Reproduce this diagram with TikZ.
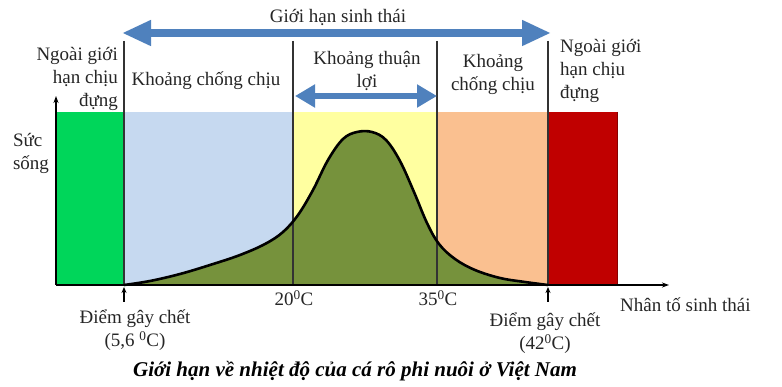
\documentclass[tikz,border=0pt]{standalone}
\usepackage{fontspec}
\setmainfont{Liberation Serif}
\usetikzlibrary{arrows.meta}
\definecolor{cgreen}{HTML}{00D65A}
\definecolor{cblue}{HTML}{C6D9F0}
\definecolor{cyellow}{HTML}{FFFFA0}
\definecolor{corange}{HTML}{FAC090}
\definecolor{cred}{HTML}{C00000}
\definecolor{colive}{HTML}{76923C}
\definecolor{arrowblue}{HTML}{4F81BD}
\tikzset{
  lbl/.style={font=\fontsize{19}{23}\selectfont, inner sep=0pt, text=black!85},
  sep/.style={draw=black!80, line width=1.3pt},
  bigarrow/.style={line width=8pt, color=arrowblue,
     {Triangle[length=29pt,width=24pt]}-{Triangle[length=29pt,width=24pt]}},
  smallarrow/.style={line width=6pt, color=arrowblue,
     {Triangle[length=20pt,width=22pt]}-{Triangle[length=20pt,width=22pt]}},
  tick/.style={-{Stealth[length=6pt,width=5pt]}, line width=1.2pt},
}
\def\curvepts{(124,285) (150,281) (180,274) (210,265) (240,255) (265,244) (283,232) (298,215) (313,190) (328,160) (343,139) (357,132) (372,132) (386,140) (400,161) (414,192) (427,223) (439,244) (455,259) (475,270) (500,278) (525,282) (548,285)}
\begin{document}
\begin{tikzpicture}[x=1pt,y=-1pt]
\useasboundingbox[fill=white] (0,0) rectangle (782,387);
% zones
\fill[cgreen] (56,112) rectangle (124,285);
\fill[cblue] (124,112) rectangle (293,285);
\fill[cyellow] (293,112) rectangle (437,285);
\fill[corange] (437,112) rectangle (548,285);
\fill[cred] (548,112) rectangle (617,285);
\draw[cred!70!black, line width=0.6pt] (617,112) -- (617,285);
% curve
\fill[colive] plot[smooth, tension=0.6] coordinates {\curvepts} -- cycle;
% separators
\coordinate (s1t) at (124,41); \coordinate (s1b) at (124,285);
\coordinate (s2t) at (293,41); \coordinate (s2b) at (293,285);
\coordinate (s3t) at (437,41); \coordinate (s3b) at (437,285);
\coordinate (s4t) at (548,41); \coordinate (s4b) at (548,285);
\draw[sep] (s1t) -- (s1b);
\draw[sep] (s2t) -- (s2b);
\draw[sep] (s3t) -- (s3b);
\draw[sep] (s4t) -- (s4b);
\draw[black, line width=2.6pt, line cap=round] plot[smooth, tension=0.6] coordinates {\curvepts};
% axes
\coordinate (org) at (56,285);
\coordinate (ytop) at (56,96);
\coordinate (xend) at (669,285);
\draw[line width=1.2pt, -{Stealth[length=7pt,width=5pt]}] (org) -- (ytop);
\draw[line width=1.2pt, -{Stealth[length=7pt,width=5pt]}] (org) -- (xend);
% top arrows
\coordinate (aL) at (122,33); \coordinate (aR) at (551,33);
\draw[bigarrow] (aL) -- (aR);
\node[lbl] (gh) at (338,17) {Giới hạn sinh thái};
\coordinate (bL) at (295,96); \coordinate (bR) at (437,96);
\draw[smallarrow] (bL) -- (bR);
% zone labels
\node[lbl, align=right, anchor=east] (ngL) at (118,79) {Ngoài giới\\hạn chịu\\đựng};
\node[lbl, align=left, anchor=west] (ngR) at (560,71) {Ngoài giới\\hạn chịu\\đựng};
\node[lbl] (kcL) at (206,81) {Khoảng chống chịu};
\node[lbl, align=center] (ktl) at (367,71) {Khoảng thuận\\lợi};
\node[lbl, align=center] (kcR) at (493,74) {Khoảng\\chống chịu};
\node[lbl, align=left] (ss) at (31,153) {Sức\\sống};
% axis labels
\node[lbl] (t20) at (294,298) {20\textsuperscript{0}C};
\node[lbl] (t35) at (438,298) {35\textsuperscript{0}C};
\node[lbl, anchor=west] (ntst) at (620,305) {Nhân tố sinh thái};
\coordinate (p1) at (124,302); \coordinate (p1t) at (124,287);
\coordinate (p2) at (548,302); \coordinate (p2t) at (548,287);
\draw[tick] (p1) -- (p1t);
\draw[tick] (p2) -- (p2t);
\node[lbl, align=center] (dL) at (135,330) {Điểm gây chết\\(5,6 \textsuperscript{0}C)};
\node[lbl, align=center] (dR) at (545,333) {Điểm gây chết\\(42\textsuperscript{0}C)};
% caption
\node[font=\fontsize{21}{24}\selectfont\bfseries\itshape, inner sep=0pt] (cap) at (355,371) {Giới hạn về nhiệt độ của cá rô phi nuôi ở Việt Nam};
\end{tikzpicture}
\end{document}
